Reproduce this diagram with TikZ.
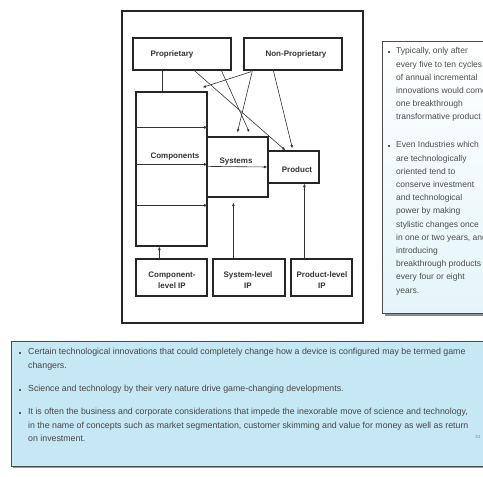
\documentclass[tikz,border=0pt]{standalone}
\usepackage{fontspec}
\setmainfont{Liberation Sans}
\usetikzlibrary{arrows.meta,calc}
\definecolor{rbfill}{HTML}{E4F5FA}
\definecolor{bbfill}{HTML}{C6E7F4}
\begin{document}
\begin{tikzpicture}[x=1pt,y=-1pt,
 blk/.style={draw=black!85, line width=1.2pt, inner sep=0, fill=white},
 lbl/.style={font=\bfseries\fontsize{8}{10.5}\selectfont, text=black!80, align=center, inner sep=0},
 conn/.style={draw=black!80, line width=0.6pt, -{Latex[length=3.4pt,width=2.8pt]}},
 plainln/.style={draw=black!80, line width=0.6pt},
 body/.style={font=\fontsize{8.5}{13.2}\selectfont, text=black!70, align=left, inner sep=0, anchor=north west},
 bodyb/.style={font=\fontsize{8.8}{13.5}\selectfont, text=black!72, align=left, inner sep=0, anchor=north west},
 bul/.style={fill=black!65, minimum size=2pt, inner sep=0, draw=none},
 panel/.style={draw=black!70, line width=0.8pt, inner sep=0}
]
\useasboundingbox (0,0) rectangle (483,477);
\clip (0,0) rectangle (483,477);
\fill[white] (0,0) rectangle (483,477);

% outer diagram frame
\node[draw=black!85, line width=1.3pt, minimum width=241, minimum height=312, inner sep=0] (frame) at (242.5,167) {};

% boxes
\node[blk, minimum width=98, minimum height=32] (prop) at (182,54) {};
\node[blk, minimum width=98, minimum height=32] (nonp) at (293,54) {};
\node[blk, minimum width=71, minimum height=154] (comp) at (171.5,169) {};
\node[blk, minimum width=61, minimum height=60] (sys) at (237.5,167) {};
\node[blk, minimum width=51, minimum height=32] (prod) at (293.5,167) {};
\node[blk, minimum width=71, minimum height=37] (cip) at (171.5,277.5) {};
\node[blk, minimum width=72, minimum height=37] (sip) at (249,277.5) {};
\node[blk, minimum width=61, minimum height=37] (pip) at (321.5,277.5) {};

% labels
\node[lbl] (propL) at (172,54) {Proprietary};
\node[lbl] (nonpL) at (296,54) {Non-Proprietary};
\node[lbl] (compL) at (175,157) {Components};
\node[lbl] (sysL) at (236,162) {Systems};
\node[lbl] (prodL) at (297,170) {Product};
\node[lbl] (cipL) at (172,280) {Component-\\level IP};
\node[lbl] (sipL) at (248,280) {System-level\\IP};
\node[lbl] (pipL) at (322,280) {Product-level\\IP};

% connectors
\draw[plainln] ($(prop.south west)+(30,0)$) -- ($(comp.north west)+(27,0)$);
\draw[conn] ($(prop.south west)+(62,0)$) -- ($(prod.north west)+(18,0)$);
\draw[conn] ($(prop.south west)+(89,0)$) -- ($(sys.north west)+(43,-4)$);
\draw[conn] ($(nonp.south west)+(9,0)$) -- ($(sys.north west)+(31,-4)$);
\draw[conn] ($(nonp.south west)+(8,1)$) -- ($(comp.north east)+(-5,-4)$);
\draw[conn] ($(nonp.south west)+(30,0)$) -- ($(prod.north west)+(25,-2)$);
\draw[conn] ($(cip.north west)+(24,0)$) -- ($(comp.south west)+(24,0)$);
\draw[conn] ($(sip.north west)+(21,0)$) -- ($(sys.south west)+(27,5)$);
\draw[conn] ($(pip.north west)+(14,0)$) -- ($(prod.south west)+(37,0)$);
\draw[conn] ($(comp.north west)+(0,36)$) -- ($(comp.north east)+(0,36)$);
\draw[conn] ($(comp.north west)+(0,73)$) -- ($(comp.north east)+(0,73)$);
\draw[conn] ($(comp.north west)+(0,114)$) -- ($(comp.north east)+(0,114)$);
\draw[conn] ($(sys.north west)+(0,30)$) -- (prod.west);

% right text panel
\fill[black!45] (384.5,43.5) rectangle (498,315.5);
\node[panel, minimum width=116, minimum height=272, top color=white, bottom color=rbfill] (rb) at (440,177) {};
\node[bul] (rbul1) at (388.5,52) {};
\node[body] (rt1) at (396,47.5) {Typically, only after\\every five to ten cycles\\of annual incremental\\innovations would come\\one breakthrough\\transformative product};
\node[bul] (rbul2) at (388.5,146) {};
\node[body] (rt2) at (396,141.5) {Even Industries which\\are technologically\\oriented tend to\\conserve investment\\and technological\\power by making\\stylistic changes once\\in one or two years, and\\introducing\\breakthrough products\\every four or eight\\years.};

% bottom text panel
\fill[black!40] (12.5,342.5) rectangle (495,468);
\node[panel, minimum width=484, minimum height=125, fill=bbfill] (bb) at (253,403.5) {};
\node[bul] (bbul1) at (20,353) {};
\node[bodyb] (bt1) at (28,348.3) {Certain technological innovations that could completely change how a device is configured may be termed game\\changers.};
\node[bul] (bbul2) at (20,390) {};
\node[bodyb] (bt2) at (28,385.3) {Science and technology by their very nature drive game-changing developments.};
\node[bul] (bbul3) at (20,413) {};
\node[bodyb] (bt3) at (28,408.3) {It is often the business and corporate considerations that impede the inexorable move of science and technology,\\in the name of concepts such as market segmentation, customer skimming and value for money as well as return\\on investment.};
\node[font=\fontsize{4.5}{5}\selectfont, text=black!50, inner sep=0] (pg) at (478,437) {31};
\end{tikzpicture}
\end{document}
